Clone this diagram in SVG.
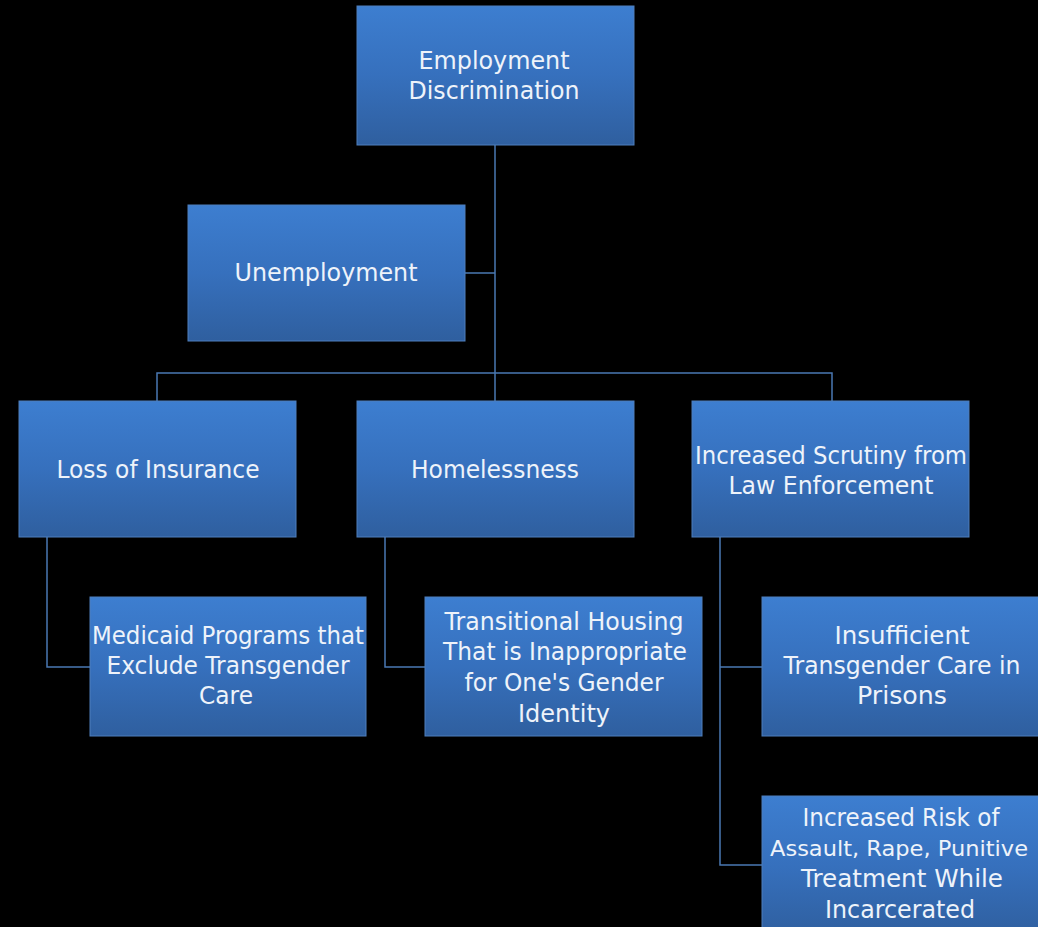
<svg xmlns="http://www.w3.org/2000/svg" width="1038" height="927" viewBox="0 0 1038 927">
<defs>
<linearGradient id="g" x1="0" y1="0" x2="0" y2="1">
<stop offset="0" stop-color="#3d7ed0"/>
<stop offset="0.5" stop-color="#3670bd"/>
<stop offset="1" stop-color="#2f5f9f"/>
</linearGradient>
</defs>
<style>
.box{fill:url(#g);stroke:#4f7fbc;stroke-width:1}
.t{font-family:"DejaVu Sans","Liberation Sans",sans-serif;font-size:24px;fill:#eef3fa;text-anchor:middle}
.c{fill:none;stroke:#4a78b2;stroke-width:1.5}
</style>
<rect width="1038" height="927" fill="#000"/>
<g id="connectors">
<path class="c" d="M495,145V373"/>
<path class="c" d="M465,273H495"/>
<path class="c" d="M157,401V373H832V401"/>
<path class="c" d="M495,373V401"/>
<path class="c" d="M47,537V667H90"/>
<path class="c" d="M385,537V667H425"/>
<path class="c" d="M720,537V865H762"/>
<path class="c" d="M720,667H762"/>
</g>
<g id="n-employment">
<rect class="box" x="357" y="6" width="277" height="139"/>
<text class="t" x="494" y="69" textLength="151" lengthAdjust="spacingAndGlyphs">Employment</text>
<text class="t" x="494" y="99" textLength="171" lengthAdjust="spacingAndGlyphs">Discrimination</text>
</g>
<g id="n-unemployment">
<rect class="box" x="188" y="205" width="277" height="136"/>
<text class="t" x="326" y="281" textLength="183" lengthAdjust="spacingAndGlyphs">Unemployment</text>
</g>
<g id="n-insurance">
<rect class="box" x="19" y="401" width="277" height="136"/>
<text class="t" x="158" y="478" textLength="203" lengthAdjust="spacingAndGlyphs">Loss of Insurance</text>
</g>
<g id="n-homelessness">
<rect class="box" x="357" y="401" width="277" height="136"/>
<text class="t" x="495" y="478" textLength="168" lengthAdjust="spacingAndGlyphs">Homelessness</text>
</g>
<g id="n-scrutiny">
<rect class="box" x="692" y="401" width="277" height="136"/>
<text class="t" x="831" y="464" textLength="272" lengthAdjust="spacingAndGlyphs">Increased Scrutiny from</text>
<text class="t" x="831" y="494" textLength="205" lengthAdjust="spacingAndGlyphs">Law Enforcement</text>
</g>
<g id="n-medicaid">
<rect class="box" x="90" y="597" width="276" height="139"/>
<text class="t" x="228" y="644" textLength="272" lengthAdjust="spacingAndGlyphs">Medicaid Programs that</text>
<text class="t" x="228" y="674" textLength="243" lengthAdjust="spacingAndGlyphs">Exclude Transgender</text>
<text class="t" x="226" y="704" textLength="54" lengthAdjust="spacingAndGlyphs">Care</text>
</g>
<g id="n-housing">
<rect class="box" x="425" y="597" width="277" height="139"/>
<text class="t" x="564" y="630" textLength="239" lengthAdjust="spacingAndGlyphs">Transitional Housing</text>
<text class="t" x="565" y="660" textLength="244" lengthAdjust="spacingAndGlyphs">That is Inappropriate</text>
<text class="t" x="564" y="691" textLength="199" lengthAdjust="spacingAndGlyphs">for One's Gender</text>
<text class="t" x="564" y="722" textLength="92" lengthAdjust="spacingAndGlyphs">Identity</text>
</g>
<g id="n-prisons">
<rect class="box" x="762" y="597" width="280" height="139"/>
<text class="t" x="902" y="644" textLength="135" lengthAdjust="spacingAndGlyphs">Insufficient</text>
<text class="t" x="902" y="674" textLength="237" lengthAdjust="spacingAndGlyphs">Transgender Care in</text>
<text class="t" x="902" y="704" textLength="90" lengthAdjust="spacingAndGlyphs">Prisons</text>
</g>
<g id="n-risk">
<rect class="box" x="762" y="796" width="280" height="140"/>
<text class="t" x="901" y="826" textLength="197" lengthAdjust="spacingAndGlyphs">Increased Risk of</text>
<text class="t" x="899" y="856" font-size="22" style="font-size:22px" textLength="258" lengthAdjust="spacingAndGlyphs">Assault, Rape, Punitive</text>
<text class="t" x="902" y="887" textLength="202" lengthAdjust="spacingAndGlyphs">Treatment While</text>
<text class="t" x="900" y="918" textLength="150" lengthAdjust="spacingAndGlyphs">Incarcerated</text>
</g>
</svg>
